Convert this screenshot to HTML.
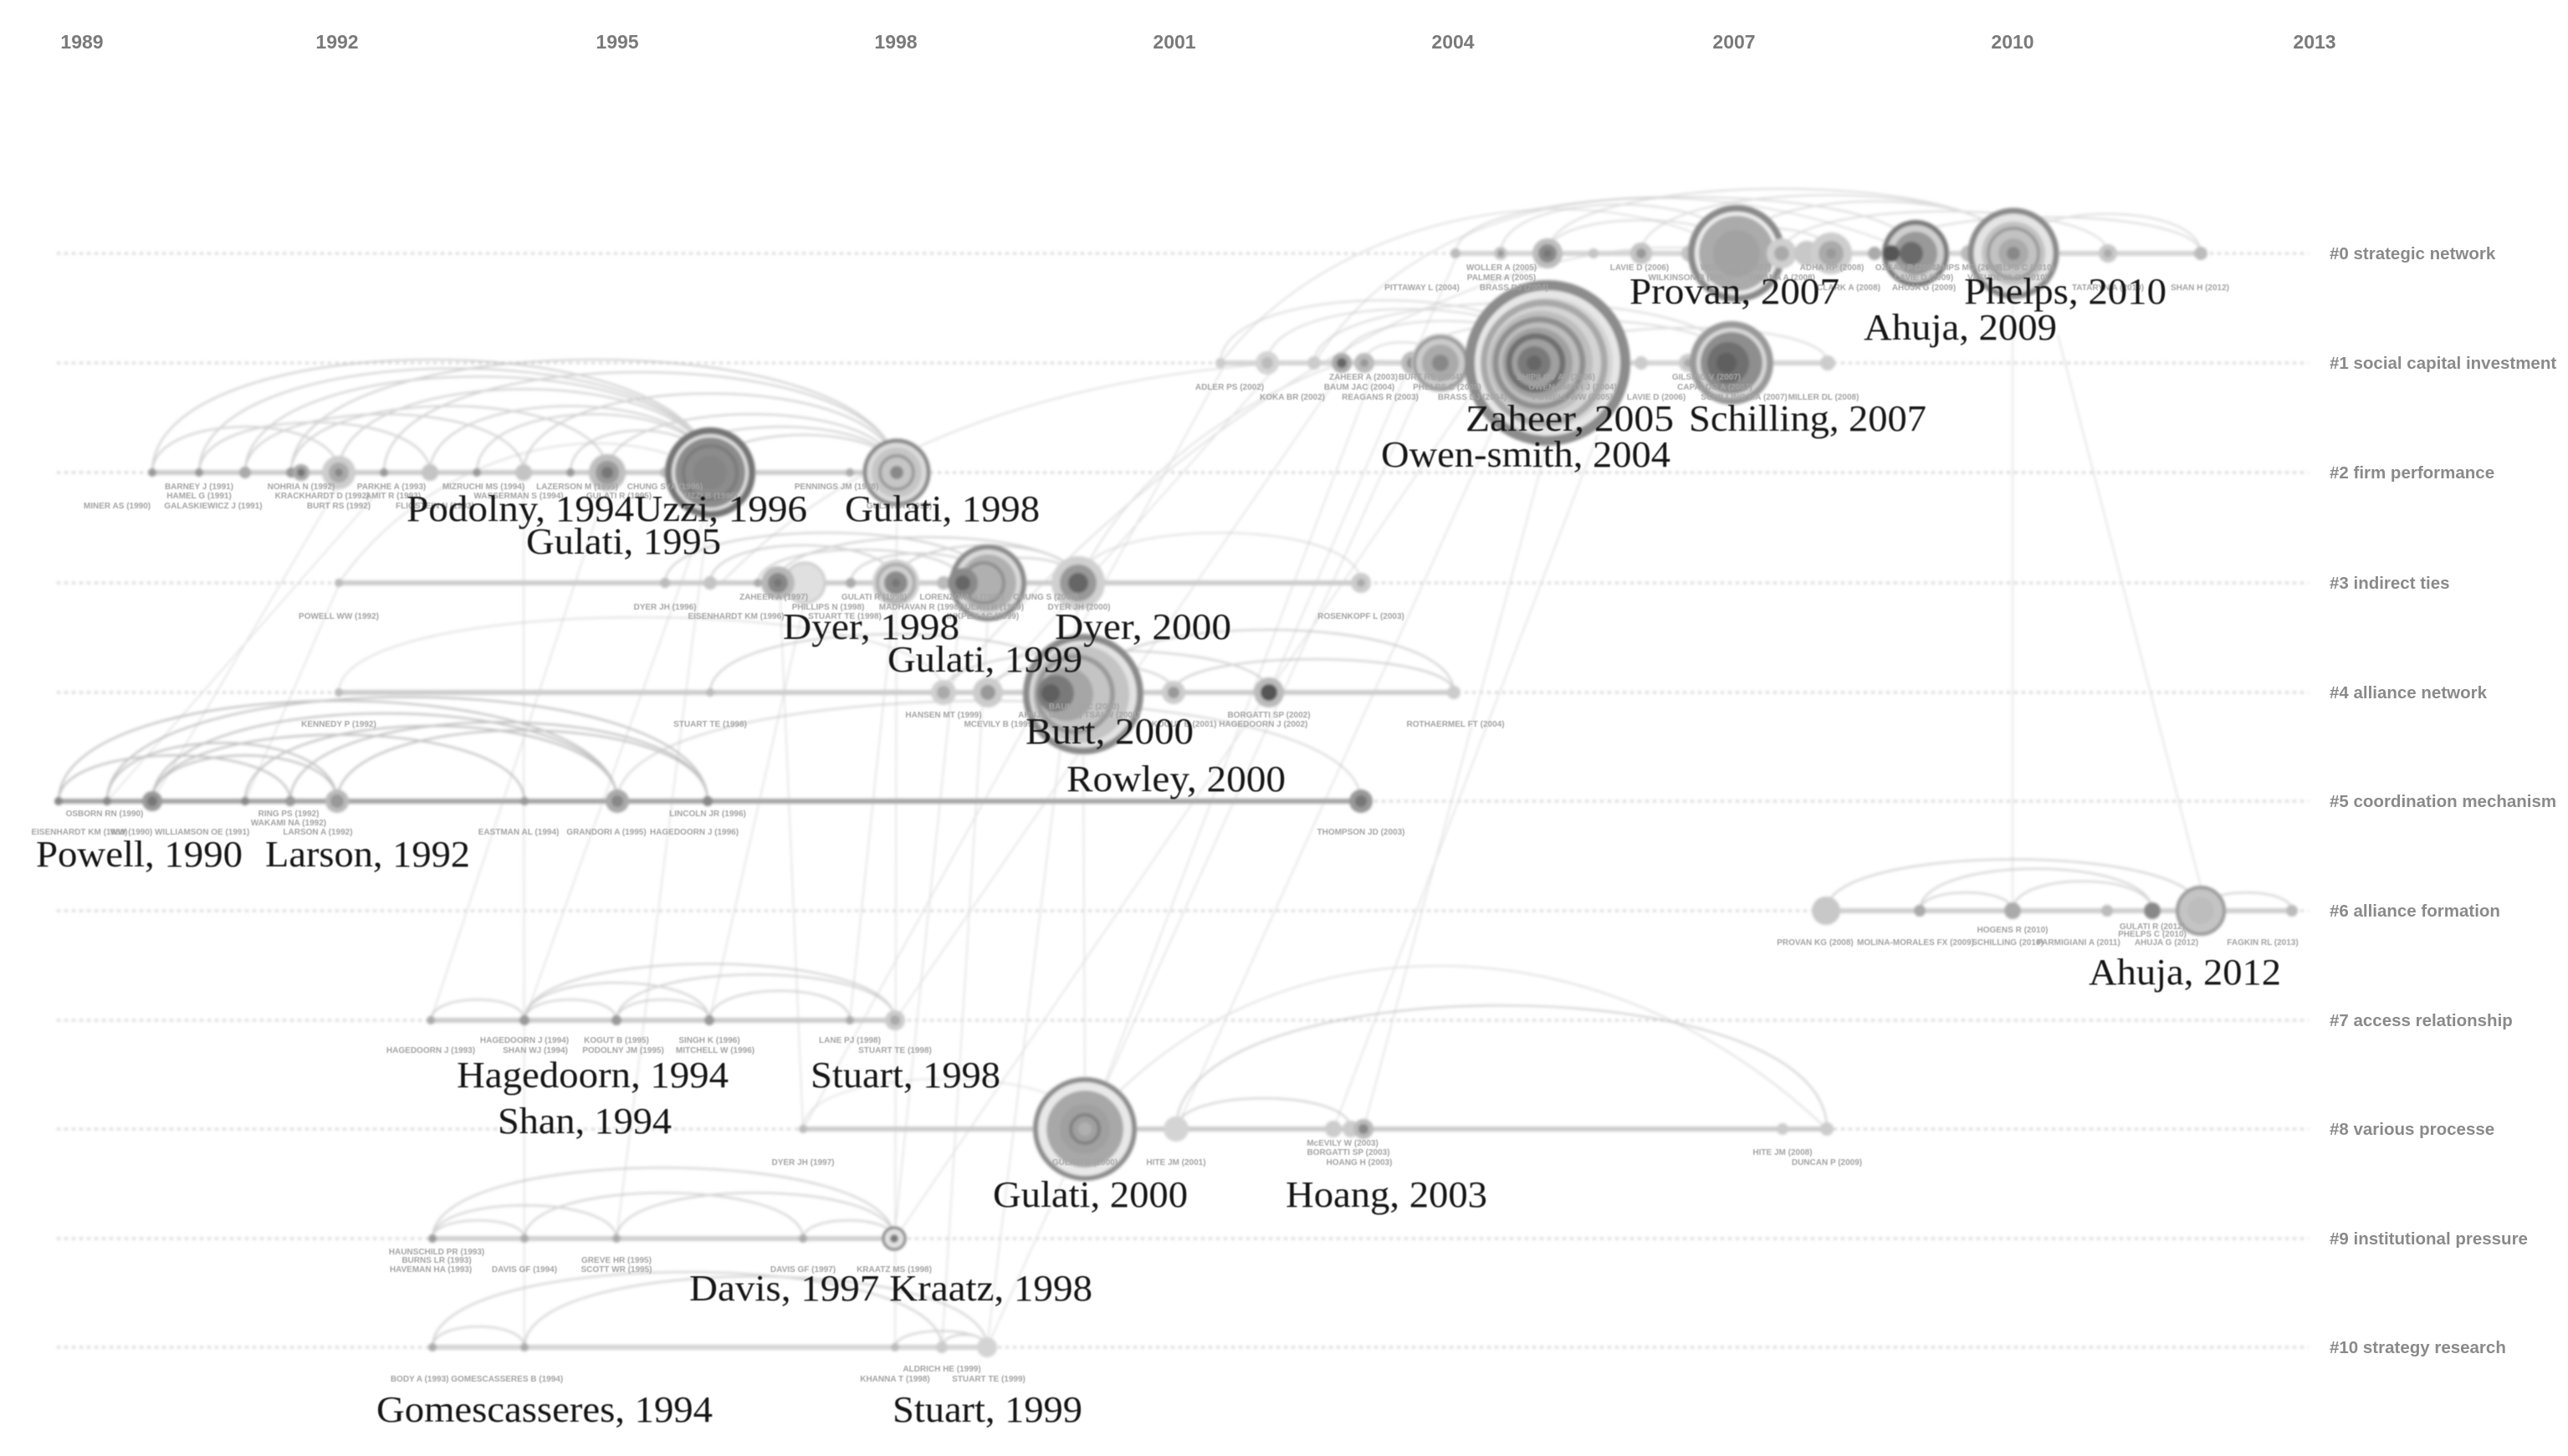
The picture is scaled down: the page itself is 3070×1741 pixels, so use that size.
<!DOCTYPE html>
<html>
<head>
<meta charset="utf-8">
<style>
html,body{margin:0;padding:0;background:#fff;}
body{width:3070px;height:1741px;overflow:hidden;}
svg{display:block;}
.yr{font-family:"Liberation Sans",sans-serif;font-weight:bold;font-size:23px;fill:#7a7a7a;text-anchor:middle;}
.cl{font-family:"Liberation Sans",sans-serif;font-weight:bold;font-size:20.5px;fill:#8a8a8a;}
.big{font-family:"Liberation Serif",serif;font-size:44px;fill:#151515;}
.tl{font-family:"Liberation Sans",sans-serif;font-weight:bold;font-size:10px;fill:#a4a4a4;text-anchor:middle;}
</style>
</head>
<body>
<svg width="3070" height="1741" viewBox="0 0 3070 1741" xmlns="http://www.w3.org/2000/svg">
<defs>
<filter id="bl" x="-5%" y="-5%" width="110%" height="110%"><feGaussianBlur stdDeviation="1.5"/></filter>
<filter id="bt"><feGaussianBlur stdDeviation="0.6"/></filter>
</defs>
<rect width="3070" height="1741" fill="#fff"/>

<!-- years -->
<g>
<text class="yr" x="98" y="58">1989</text>
<text class="yr" x="403" y="58">1992</text>
<text class="yr" x="738" y="58">1995</text>
<text class="yr" x="1071" y="58">1998</text>
<text class="yr" x="1404" y="58">2001</text>
<text class="yr" x="1737" y="58">2004</text>
<text class="yr" x="2073" y="58">2007</text>
<text class="yr" x="2406" y="58">2010</text>
<text class="yr" x="2767" y="58">2013</text>
</g>

<g filter="url(#bl)">
<!-- dashed row lines -->
<g stroke="#d4d4d4" stroke-width="3" stroke-dasharray="4 5" fill="none">
<line x1="68" y1="303" x2="2760" y2="303"/>
<line x1="68" y1="434" x2="2760" y2="434"/>
<line x1="68" y1="565" x2="2760" y2="565"/>
<line x1="68" y1="697" x2="2760" y2="697"/>
<line x1="68" y1="828" x2="2760" y2="828"/>
<line x1="68" y1="958" x2="2760" y2="958"/>
<line x1="68" y1="1089" x2="2760" y2="1089"/>
<line x1="68" y1="1220" x2="2760" y2="1220"/>
<line x1="68" y1="1350" x2="2760" y2="1350"/>
<line x1="68" y1="1481" x2="2760" y2="1481"/>
<line x1="68" y1="1611" x2="2760" y2="1611"/>
</g>

<!-- faint cross-row lines -->
<g stroke="#dedede" stroke-width="1.5" fill="none">
<line x1="2406" y1="340" x2="2406" y2="1089"/>
<line x1="2460" y1="400" x2="2631" y2="1060"/>
<line x1="1640" y1="450" x2="1300" y2="1350"/>
<line x1="1700" y1="460" x2="1180" y2="1611"/>
<line x1="1760" y1="470" x2="1070" y2="1481"/>
<line x1="1800" y1="480" x2="1406" y2="1350"/>
<line x1="1600" y1="450" x2="1070" y2="1220"/>
<line x1="1520" y1="445" x2="1181" y2="828"/>
<line x1="1462" y1="440" x2="960" y2="1350"/>
<line x1="849" y1="600" x2="627" y2="1220"/>
<line x1="849" y1="600" x2="737" y2="1481"/>
<line x1="405" y1="700" x2="293" y2="958"/>
<line x1="726" y1="580" x2="515" y2="1220"/>
<line x1="1072" y1="600" x2="1070" y2="1611"/>
<line x1="932" y1="700" x2="960" y2="1350"/>
<line x1="1181" y1="740" x2="1126" y2="1611"/>
<line x1="1295" y1="900" x2="1297" y2="1290"/>
<line x1="1151" y1="700" x2="1069" y2="1481"/>
<line x1="1071" y1="700" x2="1016" y2="1220"/>
<line x1="962" y1="720" x2="848" y2="1220"/>
<line x1="405" y1="580" x2="182" y2="958"/>
<line x1="459" y1="580" x2="128" y2="958"/>
<line x1="626" y1="580" x2="627" y2="1611"/>
<line x1="1740" y1="310" x2="1517" y2="828"/>
<line x1="1850" y1="530" x2="1630" y2="1350"/>
<line x1="1910" y1="520" x2="1594" y2="1350"/>
<line x1="1289" y1="720" x2="1180" y2="1611"/>
</g>
<g stroke="#e0e0e0" stroke-width="2" fill="none">
<path d="M862 697 C1100 450 1500 420 1722 434"/>
<path d="M1128 828 C1400 500 1800 250 2076 303"/>
<path d="M1459 434 C1600 250 1900 200 2076 303"/>
<path d="M1571 434 C1700 230 2000 180 2290 303"/>
<path d="M405 697 C500 560 700 480 849 565"/>
<path d="M1289 697 C1350 560 1500 470 1604 434"/>
<path d="M1297 1350 C1500 1100 1900 1080 2184 1350"/>
</g>

<!-- solid row segments -->
<g stroke-width="6" stroke-linecap="round">
<line x1="1740" y1="303" x2="2631" y2="303" stroke="#d4d4d4"/>
<line x1="1459" y1="434" x2="2185" y2="434" stroke="#d4d4d4"/>
<line x1="182" y1="565" x2="1072" y2="565" stroke="#cccccc"/>
<line x1="405" y1="697" x2="1627" y2="697" stroke="#cccccc"/>
<line x1="405" y1="828" x2="1738" y2="828" stroke="#cccccc"/>
<line x1="68" y1="958" x2="1627" y2="958" stroke="#a6a6a6"/>
<line x1="2183" y1="1089" x2="2740" y2="1089" stroke="#cfcfcf"/>
<line x1="515" y1="1220" x2="1070" y2="1220" stroke="#cccccc"/>
<line x1="960" y1="1350" x2="2184" y2="1350" stroke="#cccccc"/>
<line x1="517" y1="1481" x2="1069" y2="1481" stroke="#d0d0d0"/>
<line x1="517" y1="1611" x2="1180" y2="1611" stroke="#d4d4d4"/>
</g>

<!-- arcs rows 0-1 (faint) -->
<g stroke="#bcbcbc" stroke-width="2.2" fill="none" opacity="0.5">
<path d="M1740 303 C1740 213 2290 213 2290 303"/>
<path d="M1794 303 C1794 225 2076 225 2076 303"/>
<path d="M1850 303 C1850 200 2407 200 2407 303"/>
<path d="M1962 303 C1962 210 2407 210 2407 303"/>
<path d="M2076 303 C2076 220 2407 220 2407 303"/>
<path d="M2130 303 C2130 236 2520 236 2520 303"/>
<path d="M2407 303 C2407 240 2631 240 2631 303"/>
<path d="M2261 303 C2261 245 2631 245 2631 303"/>
<path d="M1850 303 C1850 250 2076 250 2076 303"/>
<path d="M2020 303 C2020 262 2189 262 2189 303"/>
<path d="M1459 434 C1459 334 1850 334 1850 434"/>
<path d="M1515 434 C1515 348 1850 348 1850 434"/>
<path d="M1571 434 C1571 338 2070 338 2070 434"/>
<path d="M1604 434 C1604 367 1850 367 1850 434"/>
<path d="M1689 434 C1689 365 2070 365 2070 434"/>
<path d="M1850 434 C1850 378 2185 378 2185 434"/>
<path d="M1631 434 C1631 401 1722 401 1722 434"/>
</g>
<g stroke="#b6b6b6" stroke-width="2.3" fill="none" opacity="0.62">
<!-- row 2 -->
<path d="M182 565 C182 385 849 385 849 565"/>
<path d="M238 565 C238 399 849 399 849 565"/>
<path d="M293 565 C293 412 849 412 849 565"/>
<path d="M348 565 C348 385 1072 385 1072 565"/>
<path d="M405 565 C405 432 849 432 849 565"/>
<path d="M459 565 C459 405 1072 405 1072 565"/>
<path d="M514 565 C514 459 849 459 849 565"/>
<path d="M570 565 C570 472 849 472 849 565"/>
<path d="M626 565 C626 439 1072 439 1072 565"/>
<path d="M682 565 C682 498 849 498 849 565"/>
<path d="M182 565 C182 492 405 492 405 565"/>
<path d="M238 565 C238 485 514 485 514 565"/>
<path d="M293 565 C293 472 626 472 626 565"/>
<path d="M726 565 C726 472 1072 472 1072 565"/>
<path d="M795 565 C795 492 1072 492 1072 565"/>
<path d="M348 565 C348 459 726 459 726 565"/>
<path d="M849 565 C849 505 1072 505 1072 565"/>
<!-- row 3 -->
<path d="M795 697 C795 617 1181 617 1181 697"/>
<path d="M849 697 C849 637 1071 637 1071 697"/>
<path d="M930 697 C930 624 1289 624 1289 697"/>
<path d="M1071 697 C1071 637 1289 637 1289 697"/>
<path d="M1151 697 C1151 657 1289 657 1289 697"/>
<path d="M1017 697 C1017 650 1181 650 1181 697"/>
<path d="M906 697 C906 644 1151 644 1151 697"/>
<path d="M1289 697 C1289 617 1627 617 1627 697" opacity="0.6"/>
<!-- row 4 -->
<path d="M849 828 C849 735 1295 735 1295 828"/>
<path d="M1295 828 C1295 728 1738 728 1738 828"/>
<path d="M1128 828 C1128 761 1517 761 1517 828"/>
<path d="M1181 828 C1181 781 1403 781 1403 828"/>
<path d="M405 828 C405 708 1128 708 1128 828" opacity="0.6"/>
<path d="M1403 828 C1403 775 1738 775 1738 828"/>
</g>
<g stroke="#aaaaaa" stroke-width="2.4" fill="none" opacity="0.7">
<!-- row 5 -->
<path d="M70 958 C70 798 738 798 738 958"/>
<path d="M128 958 C128 792 846 792 846 958"/>
<path d="M182 958 C182 818 738 818 738 958"/>
<path d="M128 958 C128 865 403 865 403 958"/>
<path d="M182 958 C182 885 403 885 403 958"/>
<path d="M293 958 C293 838 738 838 738 958"/>
<path d="M347 958 C347 832 846 832 846 958"/>
<path d="M403 958 C403 845 846 845 846 958"/>
<path d="M70 958 C70 885 347 885 347 958"/>
<path d="M182 958 C182 852 627 852 627 958"/>
<path d="M738 958 C738 798 1627 798 1627 958" opacity="0.6"/>
</g>
<g stroke="#b8b8b8" stroke-width="2.3" fill="none" opacity="0.62">
<!-- row 6 -->
<path d="M2183 1089 C2183 1007 2631 1007 2631 1089"/>
<path d="M2295 1089 C2295 1022 2573 1022 2573 1089"/>
<path d="M2295 1089 C2295 1060 2406 1060 2406 1089"/>
<path d="M2406 1089 C2406 1042 2573 1042 2573 1089"/>
<path d="M2631 1089 C2631 1060 2740 1060 2740 1089"/>
<!-- row 7 -->
<path d="M515 1220 C515 1187 627 1187 627 1220"/>
<path d="M627 1220 C627 1130 1070 1130 1070 1220"/>
<path d="M627 1220 C627 1160 848 1160 848 1220"/>
<path d="M737 1220 C737 1147 1070 1147 1070 1220"/>
<path d="M848 1220 C848 1173 1016 1173 1016 1220"/>
<path d="M627 1220 C627 1187 737 1187 737 1220"/>
<path d="M737 1220 C737 1187 848 1187 848 1220"/>
<!-- row 8 -->
<path d="M1406 1350 C1406 1153 2184 1153 2184 1350"/>
<path d="M1406 1350 C1406 1301 1615 1301 1615 1350"/>
<path d="M960 1350 C960 1270 1297 1270 1297 1350" opacity="0.5"/>
<!-- row 9 -->
<path d="M517 1481 C517 1368 1069 1368 1069 1481"/>
<path d="M517 1481 C517 1428 737 1428 737 1481"/>
<path d="M627 1481 C627 1408 960 1408 960 1481"/>
<path d="M737 1481 C737 1408 1069 1408 1069 1481"/>
<path d="M517 1481 C517 1452 627 1452 627 1481"/>
<path d="M960 1481 C960 1452 1069 1452 1069 1481"/>
<!-- row 10 -->
<path d="M517 1611 C517 1491 1126 1491 1126 1611"/>
<path d="M627 1611 C627 1498 1180 1498 1180 1611"/>
<path d="M517 1611 C517 1578 627 1578 627 1611"/>
<path d="M1126 1611 C1126 1591 1180 1591 1180 1611"/>
<path d="M1070 1611 C1070 1585 1180 1585 1180 1611"/>
</g>

<!-- nodes row 0 -->
<g>
<circle cx="1740" cy="303" r="6" fill="#bbb"/>
<circle cx="1794" cy="303" r="8" fill="#c4c4c4"/><circle cx="1794" cy="303" r="4" fill="#999"/>
<circle cx="1850" cy="303" r="18" fill="#bdbdbd"/><circle cx="1850" cy="303" r="11" fill="#8a8a8a"/><circle cx="1850" cy="303" r="5" fill="#777"/>
<circle cx="1905" cy="303" r="6" fill="#c4c4c4"/>
<circle cx="1962" cy="303" r="13" fill="#c4c4c4"/><circle cx="1962" cy="303" r="6" fill="#999"/>
<circle cx="2020" cy="303" r="10" fill="#c4c4c4"/>
<!-- Provan -->
<circle cx="2076" cy="303" r="54" fill="#ececec" stroke="#8a8a8a" stroke-width="8"/>
<circle cx="2076" cy="303" r="45" fill="#ababab"/>
<circle cx="2076" cy="303" r="28" fill="#a2a2a2"/>
<circle cx="2130" cy="303" r="18" fill="#cfcfcf"/><circle cx="2130" cy="303" r="9" fill="#aaa"/>
<circle cx="2160" cy="303" r="15" fill="#c8c8c8"/>
<circle cx="2189" cy="303" r="25" fill="#cdcdcd"/><circle cx="2189" cy="303" r="15" fill="#aaa"/><circle cx="2189" cy="303" r="6" fill="#999"/>
<circle cx="2241" cy="303" r="8" fill="#aaa"/>
<!-- Ahuja 2009 -->
<circle cx="2290" cy="303" r="37" fill="#cfcfcf" stroke="#7a7a7a" stroke-width="6"/>
<circle cx="2290" cy="303" r="26" fill="#999"/>
<circle cx="2285" cy="303" r="14" fill="#6a6a6a"/>
<circle cx="2261" cy="303" r="10" fill="#555"/>
<circle cx="2354" cy="303" r="10" fill="#bbb"/>
<!-- Phelps -->
<circle cx="2407" cy="303" r="51" fill="#e4e4e4" stroke="#8a8a8a" stroke-width="7"/>
<circle cx="2407" cy="303" r="38" fill="#c2c2c2"/>
<circle cx="2407" cy="303" r="30" fill="none" stroke="#999" stroke-width="4"/>
<circle cx="2407" cy="303" r="18" fill="#aaa"/>
<circle cx="2407" cy="303" r="8" fill="#888"/>
<circle cx="2520" cy="303" r="11" fill="#c8c8c8"/><circle cx="2520" cy="303" r="5" fill="#aaa"/>
<circle cx="2631" cy="303" r="8" fill="#bbb"/>
</g>

<!-- nodes row 1 -->
<g>
<circle cx="1459" cy="434" r="6" fill="#ccc"/>
<circle cx="1515" cy="434" r="14" fill="#d4d4d4"/><circle cx="1515" cy="434" r="7" fill="#bbb"/>
<circle cx="1571" cy="434" r="8" fill="#ccc"/>
<circle cx="1604" cy="434" r="12" fill="#aaa"/><circle cx="1604" cy="434" r="6" fill="#666"/>
<circle cx="1631" cy="434" r="12" fill="#bbb"/><circle cx="1631" cy="434" r="5" fill="#999"/>
<circle cx="1689" cy="434" r="14" fill="#bbb"/><circle cx="1689" cy="434" r="7" fill="#888"/>
<circle cx="1722" cy="434" r="35" fill="#cacaca"/>
<circle cx="1722" cy="434" r="31" fill="none" stroke="#9a9a9a" stroke-width="4"/>
<circle cx="1722" cy="434" r="22" fill="#aaa"/><circle cx="1722" cy="434" r="10" fill="#888"/>
<!-- Zaheer -->
<circle cx="1850" cy="434" r="93" fill="#e6e6e6" stroke="#8c8c8c" stroke-width="12"/>
<circle cx="1850" cy="434" r="78" fill="#d4d4d4"/>
<circle cx="1846" cy="434" r="72" fill="none" stroke="#a8a8a8" stroke-width="8"/>
<circle cx="1842" cy="434" r="62" fill="#bdbdbd"/>
<circle cx="1840" cy="434" r="52" fill="none" stroke="#8f8f8f" stroke-width="7"/>
<circle cx="1838" cy="434" r="42" fill="#a0a0a0"/>
<circle cx="1836" cy="434" r="32" fill="none" stroke="#6f6f6f" stroke-width="7"/>
<circle cx="1834" cy="434" r="20" fill="#7a7a7a"/>
<circle cx="1834" cy="434" r="9" fill="#666"/>
<circle cx="1962" cy="434" r="8" fill="#ccc"/>
<circle cx="2018" cy="434" r="11" fill="#ccc"/><circle cx="2018" cy="434" r="5" fill="#aaa"/>
<!-- Schilling -->
<circle cx="2070" cy="434" r="46" fill="#d8d8d8" stroke="#999" stroke-width="8"/>
<circle cx="2070" cy="434" r="37" fill="#8e8e8e"/>
<circle cx="2066" cy="434" r="25" fill="#707070"/>
<circle cx="2064" cy="434" r="12" fill="#5e5e5e"/>
<circle cx="2185" cy="434" r="9" fill="#ccc"/>
</g>

<!-- nodes row 2 -->
<g>
<circle cx="182" cy="565" r="5" fill="#999"/>
<circle cx="238" cy="565" r="5" fill="#999"/>
<circle cx="293" cy="565" r="7" fill="#aaa"/>
<circle cx="348" cy="565" r="6" fill="#999"/>
<circle cx="360" cy="565" r="10" fill="#aaa"/><circle cx="360" cy="565" r="5" fill="#777"/>
<circle cx="405" cy="565" r="20" fill="#cdcdcd"/><circle cx="405" cy="565" r="12" fill="#aaa"/><circle cx="405" cy="565" r="5" fill="#888"/>
<circle cx="459" cy="565" r="5" fill="#999"/>
<circle cx="514" cy="565" r="10" fill="#c4c4c4"/>
<circle cx="570" cy="565" r="5" fill="#999"/>
<circle cx="626" cy="565" r="10" fill="#c4c4c4"/>
<circle cx="682" cy="565" r="5" fill="#999"/>
<circle cx="726" cy="565" r="22" fill="#c0c0c0"/><circle cx="726" cy="565" r="14" fill="#999"/><circle cx="726" cy="565" r="7" fill="#777"/>
<circle cx="795" cy="565" r="6" fill="#bbb"/>
<!-- Uzzi -->
<circle cx="849" cy="565" r="50" fill="#e0e0e0" stroke="#757575" stroke-width="8"/>
<circle cx="849" cy="565" r="42" fill="#8c8c8c"/>
<circle cx="849" cy="565" r="32" fill="none" stroke="#7a7a7a" stroke-width="4"/>
<circle cx="849" cy="565" r="20" fill="#858585"/>
<circle cx="1016" cy="565" r="5" fill="#aaa"/>
<!-- Gulati 1998 -->
<circle cx="1072" cy="565" r="38" fill="#dcdcdc" stroke="#888" stroke-width="5"/>
<circle cx="1072" cy="565" r="30" fill="#c6c6c6"/>
<circle cx="1072" cy="565" r="20" fill="none" stroke="#999" stroke-width="4"/>
<circle cx="1072" cy="565" r="8" fill="#888"/>
</g>

<!-- nodes row 3 -->
<g>
<circle cx="405" cy="697" r="5" fill="#bbb"/>
<circle cx="795" cy="697" r="6" fill="#bbb"/>
<circle cx="849" cy="697" r="8" fill="#c4c4c4"/>
<circle cx="906" cy="697" r="5" fill="#aaa"/>
<circle cx="962" cy="697" r="24" fill="#e0e0e0" stroke="#ccc" stroke-width="3"/>
<circle cx="930" cy="697" r="20" fill="#b8b8b8"/><circle cx="930" cy="697" r="12" fill="#888"/><circle cx="930" cy="697" r="5" fill="#777"/>
<circle cx="1017" cy="697" r="6" fill="#aaa"/>
<circle cx="1071" cy="697" r="28" fill="#d0d0d0"/><circle cx="1071" cy="697" r="22" fill="none" stroke="#aaa" stroke-width="4"/><circle cx="1071" cy="697" r="14" fill="#8a8a8a"/><circle cx="1071" cy="697" r="5" fill="#777"/>
<circle cx="1128" cy="697" r="8" fill="#bbb"/>
<circle cx="1181" cy="697" r="43" fill="#dadada" stroke="#8a8a8a" stroke-width="6"/>
<circle cx="1181" cy="697" r="34" fill="#b0b0b0"/>
<circle cx="1176" cy="697" r="24" fill="none" stroke="#8f8f8f" stroke-width="4"/>
<circle cx="1151" cy="697" r="18" fill="#8a8a8a"/><circle cx="1151" cy="697" r="9" fill="#666"/>
<circle cx="1289" cy="697" r="32" fill="#d0d0d0"/><circle cx="1289" cy="697" r="22" fill="#999"/><circle cx="1289" cy="697" r="12" fill="#666"/>
<circle cx="1627" cy="697" r="12" fill="#ccc"/><circle cx="1627" cy="697" r="5" fill="#aaa"/>
</g>

<!-- nodes row 4 -->
<g>
<circle cx="405" cy="828" r="5" fill="#bbb"/>
<circle cx="849" cy="828" r="5" fill="#bbb"/>
<circle cx="1128" cy="828" r="15" fill="#d0d0d0"/><circle cx="1128" cy="828" r="8" fill="#aaa"/>
<circle cx="1181" cy="828" r="18" fill="#ccc"/><circle cx="1181" cy="828" r="9" fill="#999"/>
<circle cx="1295" cy="830" r="68" fill="#e2e2e2" stroke="#8a8a8a" stroke-width="8"/>
<circle cx="1292" cy="830" r="58" fill="#c4c4c4"/>
<circle cx="1285" cy="830" r="45" fill="none" stroke="#9a9a9a" stroke-width="6"/>
<circle cx="1275" cy="830" r="32" fill="#a6a6a6"/>
<circle cx="1262" cy="829" r="22" fill="#7a7a7a"/>
<circle cx="1256" cy="829" r="11" fill="#5e5e5e"/>
<circle cx="1403" cy="828" r="14" fill="#ccc"/><circle cx="1403" cy="828" r="7" fill="#999"/>
<circle cx="1517" cy="828" r="18" fill="#bbb"/><circle cx="1517" cy="828" r="10" fill="#555"/>
<circle cx="1738" cy="828" r="8" fill="#ccc"/>
</g>

<!-- nodes row 5 -->
<g>
<circle cx="70" cy="958" r="5" fill="#888"/>
<circle cx="128" cy="958" r="5" fill="#888"/>
<circle cx="182" cy="958" r="12" fill="#9a9a9a"/><circle cx="182" cy="958" r="6" fill="#777"/>
<circle cx="293" cy="958" r="5" fill="#888"/>
<circle cx="347" cy="958" r="6" fill="#999"/>
<circle cx="403" cy="958" r="14" fill="#bbb"/><circle cx="403" cy="958" r="8" fill="#999"/>
<circle cx="627" cy="958" r="5" fill="#999"/>
<circle cx="738" cy="958" r="14" fill="#aaa"/><circle cx="738" cy="958" r="7" fill="#888"/>
<circle cx="846" cy="958" r="6" fill="#888"/>
<circle cx="1627" cy="958" r="14" fill="#999"/><circle cx="1627" cy="958" r="7" fill="#777"/>
</g>

<!-- nodes row 6 -->
<g>
<circle cx="2183" cy="1089" r="17" fill="#c8c8c8"/>
<circle cx="2295" cy="1089" r="7" fill="#aaa"/>
<circle cx="2406" cy="1089" r="10" fill="#aaa"/>
<circle cx="2519" cy="1089" r="7" fill="#bbb"/>
<circle cx="2573" cy="1089" r="10" fill="#888"/>
<circle cx="2631" cy="1089" r="28" fill="#c4c4c4" stroke="#999" stroke-width="4"/>
<circle cx="2631" cy="1089" r="16" fill="#bdbdbd"/>
<circle cx="2740" cy="1089" r="7" fill="#bbb"/>
</g>

<!-- nodes row 7 -->
<g>
<circle cx="515" cy="1220" r="5" fill="#aaa"/>
<circle cx="627" cy="1220" r="6" fill="#999"/>
<circle cx="737" cy="1220" r="6" fill="#999"/>
<circle cx="848" cy="1220" r="6" fill="#999"/>
<circle cx="1016" cy="1220" r="5" fill="#aaa"/>
<circle cx="1070" cy="1220" r="12" fill="#ccc"/><circle cx="1070" cy="1220" r="6" fill="#aaa"/>
</g>

<!-- nodes row 8 -->
<g>
<circle cx="960" cy="1350" r="5" fill="#bbb"/>
<circle cx="1297" cy="1350" r="59" fill="#e8e8e8" stroke="#8c8c8c" stroke-width="6"/>
<circle cx="1297" cy="1350" r="46" fill="#a8a8a8"/>
<circle cx="1297" cy="1350" r="30" fill="#a0a0a0"/>
<circle cx="1297" cy="1350" r="17" fill="none" stroke="#808080" stroke-width="4"/>
<circle cx="1297" cy="1350" r="8" fill="#b0b0b0"/>
<circle cx="1406" cy="1350" r="15" fill="#d4d4d4"/>
<circle cx="1594" cy="1350" r="10" fill="#ccc"/>
<circle cx="1615" cy="1350" r="10" fill="#ccc"/>
<circle cx="1630" cy="1350" r="12" fill="#bbb"/><circle cx="1630" cy="1350" r="6" fill="#888"/>
<circle cx="2131" cy="1350" r="7" fill="#ccc"/>
<circle cx="2184" cy="1350" r="8" fill="#ccc"/>
</g>

<!-- nodes row 9 -->
<g>
<circle cx="517" cy="1481" r="5" fill="#999"/>
<circle cx="627" cy="1481" r="5" fill="#aaa"/>
<circle cx="737" cy="1481" r="5" fill="#aaa"/>
<circle cx="960" cy="1481" r="5" fill="#aaa"/>
<circle cx="1069" cy="1481" r="13" fill="#e2e2e2" stroke="#777" stroke-width="3"/>
<circle cx="1069" cy="1481" r="5" fill="#777"/>
</g>

<!-- nodes row 10 -->
<g>
<circle cx="517" cy="1611" r="5" fill="#aaa"/>
<circle cx="627" cy="1611" r="5" fill="#aaa"/>
<circle cx="1070" cy="1611" r="5" fill="#bbb"/>
<circle cx="1126" cy="1611" r="7" fill="#ccc"/>
<circle cx="1180" cy="1611" r="12" fill="#d4d4d4"/>
</g>
</g>

<!-- tiny node labels -->
<g filter="url(#bt)">
<!-- row 0 -->
<text class="tl" x="1795" y="323">WOLLER A (2005)</text>
<text class="tl" x="1960" y="323">LAVIE D (2006)</text>
<text class="tl" x="2075" y="323">WOLLER A (2007)</text>
<text class="tl" x="2190" y="323">ADHA RP (2008)</text>
<text class="tl" x="2280" y="323">OZCAN P (2008)</text>
<text class="tl" x="2350" y="323">KAMPS MO (2009)</text>
<text class="tl" x="2415" y="323">PHELPS C (2010)</text>
<text class="tl" x="1795" y="335">PALMER A (2005)</text>
<text class="tl" x="2020" y="335">WILKINSON B (2007)</text>
<text class="tl" x="2130" y="335">TIWANA A (2008)</text>
<text class="tl" x="2300" y="335">LAVIE D (2009)</text>
<text class="tl" x="2400" y="335">VASUDEVA G (2010)</text>
<text class="tl" x="1700" y="347">PITTAWAY L (2004)</text>
<text class="tl" x="1810" y="347">BRASS DJ (2004)</text>
<text class="tl" x="2210" y="347">CLARK A (2008)</text>
<text class="tl" x="2300" y="347">AHUJA G (2009)</text>
<text class="tl" x="2520" y="347">TATARYN A (2010)</text>
<text class="tl" x="2630" y="347">SHAN H (2012)</text>
<!-- row 1 -->
<text class="tl" x="1630" y="454">ZAHEER A (2003)</text>
<text class="tl" x="1710" y="454">BURT RS (2004)</text>
<text class="tl" x="1860" y="454">SHIPILOV AV (2006)</text>
<text class="tl" x="2040" y="454">GILSING V (2007)</text>
<text class="tl" x="1470" y="466">ADLER PS (2002)</text>
<text class="tl" x="1625" y="466">BAUM JAC (2004)</text>
<text class="tl" x="1730" y="466">PHELPS C (2005)</text>
<text class="tl" x="1880" y="466">OWEN-SMITH J (2004)</text>
<text class="tl" x="2050" y="466">CAPALDO A (2007)</text>
<text class="tl" x="1545" y="478">KOKA BR (2002)</text>
<text class="tl" x="1650" y="478">REAGANS R (2003)</text>
<text class="tl" x="1760" y="478">BRASS DJ (2004)</text>
<text class="tl" x="1880" y="478">POWELL WW (2005)</text>
<text class="tl" x="1980" y="478">LAVIE D (2006)</text>
<text class="tl" x="2085" y="478">SCHILLING MA (2007)</text>
<text class="tl" x="2180" y="478">MILLER DL (2008)</text>
<!-- row 2 -->
<text class="tl" x="238" y="585">BARNEY J (1991)</text>
<text class="tl" x="360" y="585">NOHRIA N (1992)</text>
<text class="tl" x="468" y="585">PARKHE A (1993)</text>
<text class="tl" x="578" y="585">MIZRUCHI MS (1994)</text>
<text class="tl" x="690" y="585">LAZERSON M (1995)</text>
<text class="tl" x="795" y="585">CHUNG SYA (1996)</text>
<text class="tl" x="1000" y="585">PENNINGS JM (1998)</text>
<text class="tl" x="238" y="596">HAMEL G (1991)</text>
<text class="tl" x="385" y="596">KRACKHARDT D (1992)</text>
<text class="tl" x="470" y="596">AMIT R (1993)</text>
<text class="tl" x="620" y="596">WASSERMAN S (1994)</text>
<text class="tl" x="740" y="596">GULATI R (1995)</text>
<text class="tl" x="850" y="596">UZZI B (1996)</text>
<text class="tl" x="140" y="608">MINER AS (1990)</text>
<text class="tl" x="255" y="608">GALASKIEWICZ J (1991)</text>
<text class="tl" x="405" y="608">BURT RS (1992)</text>
<text class="tl" x="520" y="608">FLIGSTEIN N (1993)</text>
<text class="tl" x="1075" y="608">GULATI R (1998)</text>
<!-- row 3 -->
<text class="tl" x="925" y="717">ZAHEER A (1997)</text>
<text class="tl" x="1045" y="717">GULATI R (1998)</text>
<text class="tl" x="1150" y="717">LORENZONI G (1999)</text>
<text class="tl" x="1250" y="717">CHUNG S (2000)</text>
<text class="tl" x="795" y="729">DYER JH (1996)</text>
<text class="tl" x="990" y="729">PHILLIPS N (1998)</text>
<text class="tl" x="1100" y="729">MADHAVAN R (1998)</text>
<text class="tl" x="1185" y="729">GULATI R (1999)</text>
<text class="tl" x="1290" y="729">DYER JH (2000)</text>
<text class="tl" x="405" y="740">POWELL WW (1992)</text>
<text class="tl" x="880" y="740">EISENHARDT KM (1996)</text>
<text class="tl" x="1010" y="740">STUART TE (1998)</text>
<text class="tl" x="1175" y="740">INKPEN AC (1999)</text>
<text class="tl" x="1627" y="740">ROSENKOPF L (2003)</text>
<!-- row 4 -->
<text class="tl" x="1296" y="848">BAUM JAC (2000)</text>
<text class="tl" x="1128" y="858">HANSEN MT (1999)</text>
<text class="tl" x="1290" y="858">AHUJA G (2000) TSAI W (2001)</text>
<text class="tl" x="1517" y="858">BORGATTI SP (2002)</text>
<text class="tl" x="405" y="869">KENNEDY P (1992)</text>
<text class="tl" x="849" y="869">STUART TE (1998)</text>
<text class="tl" x="1195" y="869">MCEVILY B (1999)</text>
<text class="tl" x="1470" y="869">KOGUT B (2001) HAGEDOORN J (2002)</text>
<text class="tl" x="1740" y="869">ROTHAERMEL FT (2004)</text>
<!-- row 5 -->
<text class="tl" x="125" y="976">OSBORN RN (1990)</text>
<text class="tl" x="345" y="976">RING PS (1992)</text>
<text class="tl" x="846" y="976">LINCOLN JR (1996)</text>
<text class="tl" x="345" y="987">WAKAMI NA (1992)</text>
<text class="tl" x="95" y="998">EISENHARDT KM (1989)</text>
<text class="tl" x="215" y="998">WW (1990) WILLIAMSON OE (1991)</text>
<text class="tl" x="380" y="998">LARSON A (1992)</text>
<text class="tl" x="620" y="998">EASTMAN AL (1994)</text>
<text class="tl" x="725" y="998">GRANDORI A (1995)</text>
<text class="tl" x="830" y="998">HAGEDOORN J (1996)</text>
<text class="tl" x="1627" y="998">THOMPSON JD (2003)</text>
<!-- row 6 -->
<text class="tl" x="2406" y="1115">HOGENS R (2010)</text>
<text class="tl" x="2573" y="1111">GULATI R (2012)</text>
<text class="tl" x="2573" y="1120">PHELPS C (2010)</text>
<text class="tl" x="2170" y="1130">PROVAN KG (2008)</text>
<text class="tl" x="2290" y="1130">MOLINA-MORALES FX (2009)</text>
<text class="tl" x="2400" y="1130">SCHILLING (2010)</text>
<text class="tl" x="2485" y="1130">PARMIGIANI A (2011)</text>
<text class="tl" x="2590" y="1130">AHUJA G (2012)</text>
<text class="tl" x="2705" y="1130">FAGKIN RL (2013)</text>
<!-- row 7 -->
<text class="tl" x="627" y="1247">HAGEDOORN J (1994)</text>
<text class="tl" x="737" y="1247">KOGUT B (1995)</text>
<text class="tl" x="848" y="1247">SINGH K (1996)</text>
<text class="tl" x="1016" y="1247">LANE PJ (1998)</text>
<text class="tl" x="515" y="1259">HAGEDOORN J (1993)</text>
<text class="tl" x="640" y="1259">SHAN WJ (1994)</text>
<text class="tl" x="745" y="1259">PODOLNY JM (1995)</text>
<text class="tl" x="855" y="1259">MITCHELL W (1996)</text>
<text class="tl" x="1070" y="1259">STUART TE (1998)</text>
<!-- row 8 -->
<text class="tl" x="1605" y="1370">McEVILY W (2003)</text>
<text class="tl" x="1612" y="1381">BORGATTI SP (2003)</text>
<text class="tl" x="2131" y="1381">HITE JM (2008)</text>
<text class="tl" x="960" y="1393">DYER JH (1997)</text>
<text class="tl" x="1297" y="1393">GULATI R (2000)</text>
<text class="tl" x="1406" y="1393">HITE JM (2001)</text>
<text class="tl" x="1625" y="1393">HOANG H (2003)</text>
<text class="tl" x="2184" y="1393">DUNCAN P (2009)</text>
<!-- row 9 -->
<text class="tl" x="522" y="1500">HAUNSCHILD PR (1993)</text>
<text class="tl" x="737" y="1510">GREVE HR (1995)</text>
<text class="tl" x="522" y="1510">BURNS LR (1993)</text>
<text class="tl" x="737" y="1521">SCOTT WR (1995)</text>
<text class="tl" x="515" y="1521">HAVEMAN HA (1993)</text>
<text class="tl" x="627" y="1521">DAVIS GF (1994)</text>
<text class="tl" x="960" y="1521">DAVIS GF (1997)</text>
<text class="tl" x="1069" y="1521">KRAATZ MS (1998)</text>
<!-- row 10 -->
<text class="tl" x="1126" y="1640">ALDRICH HE (1999)</text>
<text class="tl" x="570" y="1652">BODY A (1993) GOMESCASSERES B (1994)</text>
<text class="tl" x="1070" y="1652">KHANNA T (1998)</text>
<text class="tl" x="1182" y="1652">STUART TE (1999)</text>
</g>

<!-- cluster labels -->
<g>
<text class="cl" x="2785" y="310">#0 strategic network</text>
<text class="cl" x="2785" y="441">#1 social capital investment</text>
<text class="cl" x="2785" y="572">#2 firm performance</text>
<text class="cl" x="2785" y="704">#3 indirect ties</text>
<text class="cl" x="2785" y="835">#4 alliance network</text>
<text class="cl" x="2785" y="965">#5 coordination mechanism</text>
<text class="cl" x="2785" y="1096">#6 alliance formation</text>
<text class="cl" x="2785" y="1227">#7 access relationship</text>
<text class="cl" x="2785" y="1357">#8 various processe</text>
<text class="cl" x="2785" y="1488">#9 institutional pressure</text>
<text class="cl" x="2785" y="1618">#10 strategy research</text>
</g>

<!-- big labels -->
<g filter="url(#bt)">
<text class="big" x="1948" y="363" textLength="251" lengthAdjust="spacingAndGlyphs">Provan, 2007</text>
<text class="big" x="2348" y="363" textLength="242" lengthAdjust="spacingAndGlyphs">Phelps, 2010</text>
<text class="big" x="2228" y="406" textLength="231" lengthAdjust="spacingAndGlyphs">Ahuja, 2009</text>
<text class="big" x="1752" y="515" textLength="249" lengthAdjust="spacingAndGlyphs">Zaheer, 2005</text>
<text class="big" x="2019" y="515" textLength="284" lengthAdjust="spacingAndGlyphs">Schilling, 2007</text>
<text class="big" x="1651" y="558" textLength="346" lengthAdjust="spacingAndGlyphs">Owen-smith, 2004</text>
<text class="big" x="486" y="623" textLength="479" lengthAdjust="spacingAndGlyphs">Podolny, 1994Uzzi, 1996</text>
<text class="big" x="1010" y="623" textLength="233" lengthAdjust="spacingAndGlyphs">Gulati, 1998</text>
<text class="big" x="629" y="662" textLength="233" lengthAdjust="spacingAndGlyphs">Gulati, 1995</text>
<text class="big" x="936" y="764" textLength="211" lengthAdjust="spacingAndGlyphs">Dyer, 1998</text>
<text class="big" x="1261" y="764" textLength="211" lengthAdjust="spacingAndGlyphs">Dyer, 2000</text>
<text class="big" x="1061" y="803" textLength="233" lengthAdjust="spacingAndGlyphs">Gulati, 1999</text>
<text class="big" x="1226" y="889" textLength="201" lengthAdjust="spacingAndGlyphs">Burt, 2000</text>
<text class="big" x="1275" y="946" textLength="262" lengthAdjust="spacingAndGlyphs">Rowley, 2000</text>
<text class="big" x="43" y="1036" textLength="247" lengthAdjust="spacingAndGlyphs">Powell, 1990</text>
<text class="big" x="317" y="1036" textLength="245" lengthAdjust="spacingAndGlyphs">Larson, 1992</text>
<text class="big" x="2497" y="1177" textLength="230" lengthAdjust="spacingAndGlyphs">Ahuja, 2012</text>
<text class="big" x="546" y="1300" textLength="325" lengthAdjust="spacingAndGlyphs">Hagedoorn, 1994</text>
<text class="big" x="969" y="1300" textLength="227" lengthAdjust="spacingAndGlyphs">Stuart, 1998</text>
<text class="big" x="595" y="1355" textLength="208" lengthAdjust="spacingAndGlyphs">Shan, 1994</text>
<text class="big" x="1187" y="1443" textLength="233" lengthAdjust="spacingAndGlyphs">Gulati, 2000</text>
<text class="big" x="1537" y="1443" textLength="241" lengthAdjust="spacingAndGlyphs">Hoang, 2003</text>
<text class="big" x="824" y="1555" textLength="482" lengthAdjust="spacingAndGlyphs">Davis, 1997 Kraatz, 1998</text>
<text class="big" x="450" y="1700" textLength="402" lengthAdjust="spacingAndGlyphs">Gomescasseres, 1994</text>
<text class="big" x="1067" y="1700" textLength="227" lengthAdjust="spacingAndGlyphs">Stuart, 1999</text>
</g>
</svg>
</body>
</html>
